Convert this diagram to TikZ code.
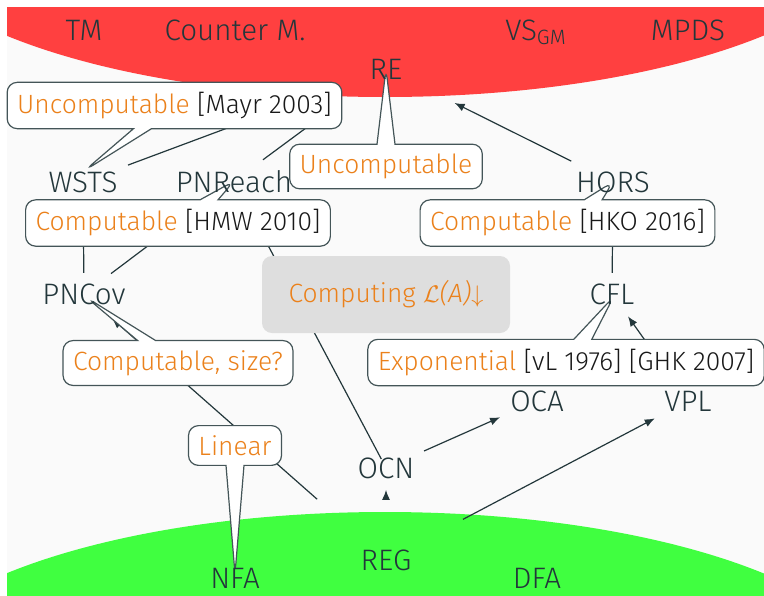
\documentclass[tikz,border=0pt]{standalone}
\usepackage{fontspec}
\setmainfont{Fira Sans Light}
\usetikzlibrary{arrows.meta, shapes.callouts, calc, backgrounds}
\definecolor{mdarkteal}{HTML}{23373B}
\definecolor{morange}{HTML}{EB811B}
\definecolor{mred}{RGB}{255,64,64}
\definecolor{mgreen}{RGB}{64,255,64}
\definecolor{mbg}{HTML}{FAFAFA}
\definecolor{mgray}{HTML}{DEDEDE}

\begin{document}
\begin{tikzpicture}[x=0.5pt, y=-0.5pt,
  cls/.style={anchor=base, text=mdarkteal, inner sep=0pt, font=\fontsize{14.8}{17}\selectfont},
  edge/.style={draw=mdarkteal, line width=0.6pt, -{Latex[length=5pt,width=4pt]}},
  note/.style={rectangle callout, draw=mdarkteal!85, fill=white, line width=0.6pt, rounded corners=5pt, callout pointer width=9pt, text=morange, inner xsep=5pt, inner ysep=4.9pt, font=\fontsize{13.2}{15}\selectfont},
  cite/.style={text=black!90}]
 \useasboundingbox (0,0) rectangle (764,595);
 \foreach \n/\x/\y/\t in {tm/84/40/TM, cm/235/40/Counter M., vs/536/40/VS\textsubscript{GM}, mpds/688/40/MPDS,
   re/386/79/RE, wsts/83/192/WSTS, pnreach/234/192/PNReach, hors/613/192/HORS,
   pncov/84/304/PNCov, cfl/612/304/CFL, oca/537/411/OCA, vpl/688/411/VPL,
   ocn/386/478/OCN, reg/386/570/REG, nfa/235/588/NFA, dfa/537/588/DFA}{
   \node[cls] (\n) at (\x,\y) {\t};
 }
 \begin{scope}[on background layer]
  \fill[white] (0,0) rectangle (764,595);
  \fill[mbg] (7,7) rectangle (764,595);
  \begin{scope}
   \clip (7,7) rectangle (764,595);
   \fill[mred] (385,-80) ellipse [x radius=250pt, y radius=88.5pt];
   \fill[mgreen] (385,689) ellipse [x radius=250pt, y radius=88.5pt];
  \end{scope}
  \draw[edge, shorten <=23.3pt, shorten >=38.3pt] (hors.center) -- (re.center);
  \draw[edge, shorten <=24pt, shorten >=32pt] (wsts.center) -- (re.center);
  \draw[edge, shorten <=18pt, shorten >=33pt] (pnreach.center) -- (re.center);
  \draw[edge, shorten <=10.5pt, shorten >=10.5pt] (pncov.center) -- (wsts.center);
  \draw[edge, shorten <=16.9pt, shorten >=17pt] (pncov.center) -- (pnreach.center);
  \draw[edge, shorten <=10.5pt, shorten >=10.5pt] (cfl.center) -- (hors.center);
  \draw[edge, shorten <=10pt, shorten >=13.8pt] (vpl.center) -- (cfl.center);
  \draw[edge, shorten <=20.8pt, shorten >=20.2pt] (ocn.center) -- (oca.center);
  \draw[edge, shorten <=5pt, shorten >=14pt] (ocn.center) -- (pnreach.center);
  \draw[edge, shorten <=30pt, shorten >=11pt] (reg.center) -- (ocn.center);
  \draw[edge, shorten <=43.5pt, shorten >=18.8pt] (reg.center) -- (vpl.center);
  \draw[edge, shorten <=45.9pt, shorten >=18.7pt] (reg.center) -- (pncov.center);
  \node[fill=mgray, rounded corners=5pt, minimum width=124pt, minimum height=38.5pt, text=morange, font=\fontsize{13.2}{15}\selectfont] (comp) at (386,294.5) {Computing \textit{$\mathcal{L}$(A)}$\downarrow$};
  \node[note, callout absolute pointer={($(wsts.center)+(2,-11.6)$)}] (mayr) at (174.5,105.5) {Uncomputable {\color{black!90}[Mayr 2003]}};
  \node[note, callout absolute pointer={(re.center)}] (unc) at (386,166.5) {Uncomputable};
  \node[note, callout absolute pointer={(pnreach.center)}] (hmw) at (178,223) {Computable {\color{black!90}[HMW 2010]}};
  \node[note, callout absolute pointer={(hors.center)}] (hko) at (567.5,223) {Computable {\color{black!90}[HKO 2016]}};
  \node[note, callout absolute pointer={($(pncov.center)+(3,4)$)}] (size) at (178,363) {Computable, size?};
  \node[note, callout absolute pointer={($(cfl.center)+(1.5,3)$)}] (expo) at (566,362.5) {Exponential {\color{black!90}[vL 1976] [GHK 2007]}};
  \node[note, callout absolute pointer={($(nfa.center)+(0,-4)$)}] (lin) at (235,445.5) {Linear};
 \end{scope}
\end{tikzpicture}
\end{document}
